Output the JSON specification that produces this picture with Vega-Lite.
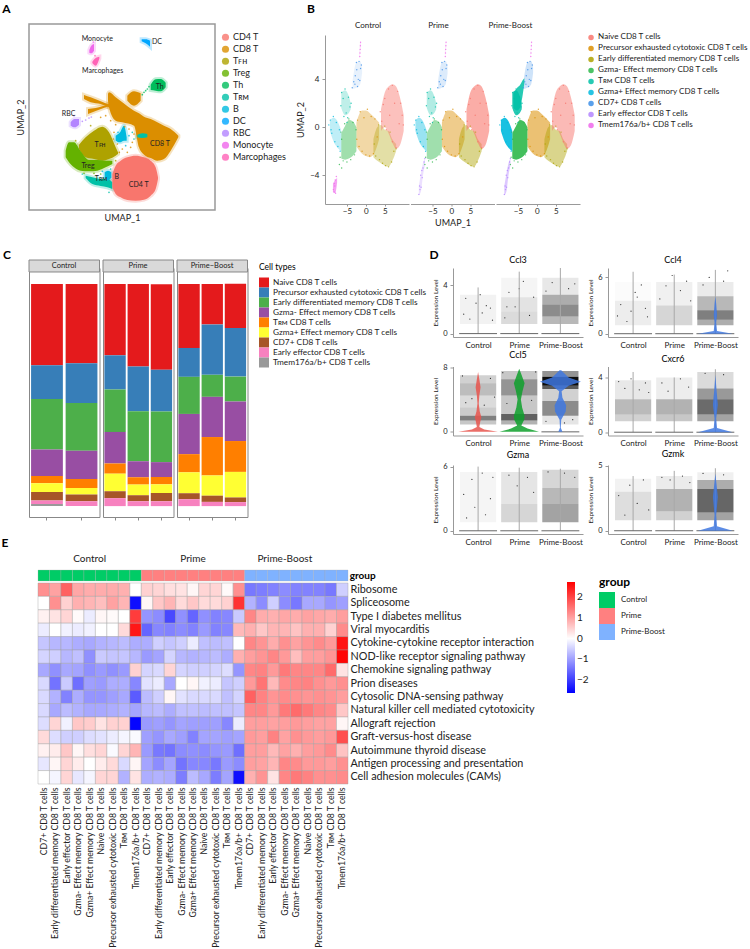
{"$schema":"https://vega.github.io/schema/vega-lite/v6.json","padding":0,"bounds":"flush","spacing":244,"resolve":{"scale":{"color":"independent","stroke":"independent"},"legend":{"color":"independent","stroke":"independent"}},
"config":{"font":"Lato","view":{"stroke":null},"axis":{"grid":false,"labelFontSize":8,"titleFontSize":8,"titleFontWeight":"normal","labelColor":"#222","titleColor":"#222","domainColor":"#999","tickColor":"#999","tickSize":3,"labelPadding":3},"legend":{"labelLimit":260,"labelColor":"#222"},"text":{"color":"#222"}},
"datasets":{
"aShapes":[
{"k":"CD8 T","p":1,"x":322,"y":280,"y2":300},{"k":"CD8 T","p":1,"x":325,"y":275,"y2":320},{"k":"CD8 T","p":1,"x":345,"y":290,"y2":360},{"k":"CD8 T","p":1,"x":365,"y":305,"y2":365},{"k":"CD8 T","p":1,"x":400,"y":330,"y2":375},{"k":"CD8 T","p":1,"x":415,"y":338,"y2":440},{"k":"CD8 T","p":1,"x":430,"y":348,"y2":462},{"k":"CD8 T","p":1,"x":450,"y":355,"y2":472},{"k":"CD8 T","p":1,"x":470,"y":365,"y2":480},{"k":"CD8 T","p":1,"x":490,"y":375,"y2":475},{"k":"CD8 T","p":1,"x":510,"y":385,"y2":450},{"k":"CD8 T","p":1,"x":533,"y":405,"y2":410},
{"k":"CD8 T","p":2,"x":380,"y":285,"y2":300},{"k":"CD8 T","p":2,"x":400,"y":272,"y2":315},{"k":"CD8 T","p":2,"x":420,"y":278,"y2":300},
{"k":"CD8 T","p":3,"x":250,"y":283,"y2":295},{"k":"CD8 T","p":3,"x":270,"y":290,"y2":305},{"k":"CD8 T","p":3,"x":300,"y":302,"y2":310},{"k":"CD8 T","p":3,"x":325,"y":312,"y2":320},
{"k":"CD8 T","p":4,"x":262,"y":325,"y2":340},{"k":"CD8 T","p":4,"x":285,"y":322,"y2":331},{"k":"CD8 T","p":4,"x":325,"y":310,"y2":316},
{"k":"Th","p":1,"x":450,"y":252,"y2":268},{"k":"Th","p":1,"x":465,"y":236,"y2":270},{"k":"Th","p":1,"x":480,"y":235,"y2":272},{"k":"Th","p":1,"x":495,"y":246,"y2":260},
{"k":"Tꜰʜ","p":1,"x":235,"y":432,"y2":445},{"k":"Tꜰʜ","p":1,"x":255,"y":410,"y2":470},{"k":"Tꜰʜ","p":1,"x":280,"y":390,"y2":475},{"k":"Tꜰʜ","p":1,"x":305,"y":378,"y2":480},{"k":"Tꜰʜ","p":1,"x":325,"y":395,"y2":475},{"k":"Tꜰʜ","p":1,"x":345,"y":440,"y2":465},{"k":"Tꜰʜ","p":1,"x":352,"y":455,"y2":460},
{"k":"Treg","p":1,"x":195,"y":450,"y2":470},{"k":"Treg","p":1,"x":205,"y":425,"y2":485},{"k":"Treg","p":1,"x":220,"y":425,"y2":500},{"k":"Treg","p":1,"x":240,"y":452,"y2":510},{"k":"Treg","p":1,"x":265,"y":478,"y2":512},{"k":"Treg","p":1,"x":290,"y":478,"y2":510},{"k":"Treg","p":1,"x":315,"y":480,"y2":500},{"k":"Treg","p":1,"x":335,"y":480,"y2":490},
{"k":"Tʀᴍ","p":1,"x":255,"y":525,"y2":532},{"k":"Tʀᴍ","p":1,"x":275,"y":530,"y2":550},{"k":"Tʀᴍ","p":1,"x":300,"y":535,"y2":556},{"k":"Tʀᴍ","p":1,"x":320,"y":535,"y2":560},{"k":"Tʀᴍ","p":1,"x":335,"y":545,"y2":565},
{"k":"B","p":1,"x":312,"y":515,"y2":530},{"k":"B","p":1,"x":322,"y":510,"y2":540},{"k":"B","p":1,"x":332,"y":515,"y2":530},
{"k":"B","p":2,"x":345,"y":405,"y2":420},{"k":"B","p":2,"x":358,"y":395,"y2":425},{"k":"B","p":2,"x":370,"y":375,"y2":420},{"k":"B","p":2,"x":378,"y":410,"y2":420},
{"k":"Tʀᴍ","p":2,"x":410,"y":403,"y2":410},{"k":"Tʀᴍ","p":2,"x":425,"y":398,"y2":412},{"k":"Tʀᴍ","p":2,"x":440,"y":400,"y2":410},
{"k":"CD4 T","p":1,"x":335,"y":520,"y2":560},{"k":"CD4 T","p":1,"x":345,"y":495,"y2":580},{"k":"CD4 T","p":1,"x":360,"y":480,"y2":590},{"k":"CD4 T","p":1,"x":380,"y":470,"y2":598},{"k":"CD4 T","p":1,"x":405,"y":465,"y2":600},{"k":"CD4 T","p":1,"x":430,"y":470,"y2":597},{"k":"CD4 T","p":1,"x":450,"y":480,"y2":585},{"k":"CD4 T","p":1,"x":465,"y":500,"y2":565},{"k":"CD4 T","p":1,"x":472,"y":530,"y2":535},
{"k":"DC","p":1,"x":423,"y":116,"y2":122},{"k":"DC","p":1,"x":435,"y":116,"y2":128},{"k":"DC","p":1,"x":448,"y":120,"y2":138},
{"k":"Monocyte","p":1,"x":266,"y":148,"y2":156},{"k":"Monocyte","p":1,"x":272,"y":135,"y2":158},{"k":"Monocyte","p":1,"x":280,"y":130,"y2":150},
{"k":"Marcophages","p":1,"x":275,"y":183,"y2":187},{"k":"Marcophages","p":1,"x":285,"y":172,"y2":195},{"k":"Marcophages","p":1,"x":296,"y":168,"y2":174},
{"k":"RBC","p":1,"x":210,"y":365,"y2":375},{"k":"RBC","p":1,"x":222,"y":355,"y2":380},{"k":"RBC","p":1,"x":235,"y":355,"y2":372}],
"aDots":[{"k":"CD8 T","x":345,"y":372},{"k":"CD8 T","x":350,"y":430},{"k":"CD8 T","x":365,"y":445},{"k":"CD8 T","x":390,"y":440},{"k":"CD8 T","x":400,"y":400},{"k":"CD8 T","x":385,"y":385},{"k":"CD8 T","x":340,"y":395},{"k":"CD8 T","x":395,"y":425},{"k":"CD8 T","x":372,"y":378},{"k":"CD8 T","x":410,"y":385},{"k":"CD8 T","x":356,"y":455},{"k":"CD8 T","x":380,"y":455},{"k":"CD8 T","x":330,"y":360},{"k":"CD8 T","x":338,"y":415},{"k":"CD8 T","x":300,"y":350},{"k":"CD8 T","x":315,"y":345},{"k":"B","x":385,"y":405},{"k":"B","x":352,"y":395},{"k":"B","x":375,"y":435},{"k":"Tʀᴍ","x":400,"y":415},{"k":"Tʀᴍ","x":395,"y":395},{"k":"Th","x":440,"y":265},{"k":"Th","x":430,"y":275},{"k":"Th","x":445,"y":258},{"k":"Th","x":425,"y":282},{"k":"Th","x":435,"y":270},{"k":"RBC","x":245,"y":362},{"k":"RBC","x":255,"y":358},{"k":"RBC","x":265,"y":352},{"k":"RBC","x":272,"y":349},{"k":"RBC","x":220,"y":345},{"k":"Treg","x":250,"y":518},{"k":"Treg","x":300,"y":520},{"k":"Treg","x":280,"y":518},{"k":"Tʀᴍ","x":330,"y":505},{"k":"Tꜰʜ","x":345,"y":480},{"k":"Tꜰʜ","x":270,"y":375},{"k":"Tꜰʜ","x":225,"y":420},{"k":"Tʀᴍ","x":245,"y":520},{"k":"B","x":305,"y":512},{"k":"Tʀᴍ","x":325,"y":575},{"k":"Marcophages","x":283,"y":165},{"k":"Monocyte","x":278,"y":124}],
"dens":[{"s":"N","C":0.45,"P":0.6,"B":0.5},{"s":"P","C":0.35,"P":0.45,"B":0.55},{"s":"E","C":0.35,"P":0.45,"B":0.45},{"s":"G","C":0.45,"P":0.45,"B":0.9},{"s":"T","C":0.25,"P":0.3,"B":0.85},{"s":"H","C":0.25,"P":0.4,"B":0.9},{"s":"7","C":0.12,"P":0.18,"B":0.25},{"s":"F","C":0,"P":0.25,"B":0.45},{"s":"M","C":0.2,"P":0.15,"B":0.1},{"s":"m","C":0.6,"P":0,"B":0}],
"bShapes":[
{"s":"P","x":-2.5,"y":-1.6,"y2":0.4},{"s":"P","x":-1,"y":-2.2,"y2":1.4},{"s":"P","x":0,"y":-2.4,"y2":1.4},{"s":"P","x":1,"y":-2.5,"y2":1.2},{"s":"P","x":2,"y":-2.3,"y2":0.9},{"s":"P","x":3.5,"y":-1,"y2":0.4},
{"s":"E","x":2,"y":-2.5,"y2":-1},{"s":"E","x":3,"y":-2.8,"y2":0},{"s":"E","x":4,"y":-3,"y2":0.2},{"s":"E","x":5,"y":-3.2,"y2":-0.2},{"s":"E","x":6,"y":-3.3,"y2":-0.3},{"s":"E","x":7,"y":-2.8,"y2":-1},{"s":"E","x":8,"y":-2,"y2":-1.4},
{"s":"N","x":4,"y":-0.3,"y2":1.5},{"s":"N","x":5,"y":0,"y2":2.9},{"s":"N","x":6,"y":-0.5,"y2":3.4},{"s":"N","x":7,"y":-1.3,"y2":3.6},{"s":"N","x":8,"y":-1.8,"y2":3.4},{"s":"N","x":9,"y":-1.5,"y2":2.5},{"s":"N","x":10,"y":-0.3,"y2":1},
{"s":"G","x":-6.5,"y":-2.6,"y2":-0.5},{"s":"G","x":-5.5,"y":-2.7,"y2":0.1},{"s":"G","x":-4.5,"y":-2.6,"y2":0.6},{"s":"G","x":-3.5,"y":-2.4,"y2":0.5},{"s":"G","x":-2.5,"y":-2,"y2":0},
{"s":"T","x":-6.5,"y":1.6,"y2":2.9},{"s":"T","x":-5.5,"y":1,"y2":3.1},{"s":"T","x":-4.5,"y":1.2,"y2":2.6},{"s":"T","x":-4,"y":1.5,"y2":2},
{"s":"H","x":-9.5,"y":-0.3,"y2":0.6},{"s":"H","x":-8.5,"y":-1.2,"y2":0.8},{"s":"H","x":-7.5,"y":-1.7,"y2":0.5},{"s":"H","x":-6.5,"y":-2,"y2":-0.3},
{"s":"7","x":-3.5,"y":3.2,"y2":3.9},{"s":"7","x":-2.5,"y":3.3,"y2":5.4},{"s":"7","x":-1.5,"y":3.6,"y2":5.5},{"s":"7","x":-1,"y":4.5,"y2":5},
{"s":"F","x":-8.6,"y":-5.7,"y2":-4.9},{"s":"F","x":-8,"y":-5.3,"y2":-3.8},{"s":"F","x":-7.5,"y":-4,"y2":-3},{"s":"F","x":-7,"y":-3.2,"y2":-2.6},
{"s":"m","x":-8.7,"y":-5.4,"y2":-4.7},{"s":"m","x":-8.1,"y":-5.5,"y2":-4.4},{"s":"m","x":-7.6,"y":-4.6,"y2":-4.2},
{"s":"M","x":-1.7,"y":5.7,"y2":6.2},{"s":"M","x":-1.5,"y":6.2,"y2":7.1},{"s":"M","x":-1.3,"y":6.8,"y2":7.1}],
"bExtra":[{"s":"T","x":-6.2,"y":1.6,"y2":2.8},{"s":"T","x":-5.2,"y":1.4,"y2":3.3},{"s":"T","x":-4.5,"y":1.6,"y2":3.5},{"s":"T","x":-3.8,"y":2.6,"y2":3.9},{"s":"T","x":-3.3,"y":3.7,"y2":4.1}],
"bDots":[{"s":"N","x":4.2,"y":0.5},{"s":"N","x":5,"y":2.4},{"s":"N","x":5.4,"y":-0.2},{"s":"N","x":6,"y":3.2},{"s":"N","x":6.3,"y":1},{"s":"N","x":7,"y":3.5},{"s":"N","x":7,"y":-1.2},{"s":"N","x":7.6,"y":2},{"s":"N","x":8,"y":-1.7},{"s":"N","x":8.4,"y":3},{"s":"N","x":8.8,"y":0.3},{"s":"N","x":9.2,"y":2},{"s":"N","x":9.6,"y":1},{"s":"N","x":9.9,"y":0.2},{"s":"N","x":3.8,"y":1.3},{"s":"N","x":4.6,"y":1.9},
{"s":"P","x":-2.4,"y":-1},{"s":"P","x":-2.2,"y":0.6},{"s":"P","x":-1.5,"y":1.3},{"s":"P","x":-1,"y":-2},{"s":"P","x":-0.5,"y":0.8},{"s":"P","x":0,"y":-2.3},{"s":"P","x":0.4,"y":1.5},{"s":"P","x":1,"y":-2.4},{"s":"P","x":1.4,"y":0.9},{"s":"P","x":2,"y":-2.2},{"s":"P","x":2.4,"y":0.7},{"s":"P","x":3,"y":-0.8},{"s":"P","x":-1.8,"y":-1.6},
{"s":"E","x":2.2,"y":-1.4},{"s":"E","x":2.6,"y":-2.4},{"s":"E","x":3.4,"y":0.2},{"s":"E","x":3.6,"y":-2.7},{"s":"E","x":4.4,"y":-3},{"s":"E","x":5,"y":0.1},{"s":"E","x":5.2,"y":-3.2},{"s":"E","x":6,"y":-3.3},{"s":"E","x":6.4,"y":-0.4},{"s":"E","x":6.8,"y":-2.9},{"s":"E","x":7.4,"y":-2},{"s":"E","x":8,"y":-1.8},
{"s":"G","x":-6.8,"y":-2.5},{"s":"G","x":-6.4,"y":-1},{"s":"G","x":-6,"y":-2.8},{"s":"G","x":-5.6,"y":0.3},{"s":"G","x":-5,"y":-2.9},{"s":"G","x":-4.5,"y":0.7},{"s":"G","x":-4,"y":-2.7},{"s":"G","x":-3.4,"y":0.4},{"s":"G","x":-3,"y":-2.3},{"s":"G","x":-2.6,"y":-0.2},{"s":"G","x":-6.6,"y":-0.4},{"s":"G","x":-7,"y":-3.1},{"s":"G","x":-6.4,"y":-3.4},
{"s":"T","x":-6.6,"y":1.8},{"s":"T","x":-6.4,"y":2.9},{"s":"T","x":-5.8,"y":0.9},{"s":"T","x":-5.5,"y":3.2},{"s":"T","x":-5,"y":0.4},{"s":"T","x":-4.6,"y":2.5},{"s":"T","x":-4.2,"y":1.7},{"s":"T","x":-3.9,"y":2},{"s":"T","x":-5.2,"y":1.2},{"s":"T","x":-6,"y":2.4},{"s":"T","x":-4.8,"y":0.8},
{"s":"H","x":-9.8,"y":0.2},{"s":"H","x":-9.4,"y":0.6},{"s":"H","x":-9,"y":-0.5},{"s":"H","x":-8.6,"y":0.9},{"s":"H","x":-8.2,"y":-1.2},{"s":"H","x":-7.8,"y":0.4},{"s":"H","x":-7.4,"y":-1.6},{"s":"H","x":-7,"y":-0.2},{"s":"H","x":-6.8,"y":-2},{"s":"H","x":-9.2,"y":-0.2},
{"s":"7","x":-3.6,"y":3.3},{"s":"7","x":-3.2,"y":3.8},{"s":"7","x":-2.8,"y":4.3},{"s":"7","x":-2.5,"y":5.4},{"s":"7","x":-2.2,"y":3.4},{"s":"7","x":-2,"y":4},{"s":"7","x":-1.8,"y":5.5},{"s":"7","x":-1.4,"y":4.9},{"s":"7","x":-1.2,"y":5.2},{"s":"7","x":-2.4,"y":4.8},{"s":"7","x":-2.9,"y":3.6},{"s":"7","x":-1.6,"y":3.9},
{"s":"F","x":-8.6,"y":-5.6},{"s":"F","x":-8.4,"y":-4.9},{"s":"F","x":-8,"y":-5},{"s":"F","x":-8.1,"y":-4},{"s":"F","x":-7.8,"y":-3.6},{"s":"F","x":-7.5,"y":-3.4},{"s":"F","x":-7.2,"y":-2.9},{"s":"F","x":-7,"y":-2.6},{"s":"F","x":-8.3,"y":-5.2},{"s":"F","x":-7.7,"y":-4.2},
{"s":"M","x":-1.5,"y":6.5},{"s":"M","x":-1.45,"y":6.8},{"s":"M","x":-1.4,"y":7.1},{"s":"M","x":-1.55,"y":6.2},{"s":"M","x":-1.6,"y":5.9},
{"s":"m","x":-8.6,"y":-5.2},{"s":"m","x":-8.4,"y":-5.4},{"s":"m","x":-8.2,"y":-4.9},{"s":"m","x":-8,"y":-5.5},{"s":"m","x":-8.1,"y":-4.4},{"s":"m","x":-7.8,"y":-4.1},{"s":"m","x":-8.3,"y":-4.7}],
"bars":[{"s":1,"r":1,"v":36.6},{"s":1,"r":2,"v":15.2},{"s":1,"r":3,"v":22.7},{"s":1,"r":4,"v":11.9},{"s":1,"r":5,"v":3.3},{"s":1,"r":6,"v":3.9},{"s":1,"r":7,"v":3.9},{"s":1,"r":8,"v":1.5},{"s":1,"r":9,"v":1},
{"s":2,"r":1,"v":35.7},{"s":2,"r":2,"v":17.9},{"s":2,"r":3,"v":21.5},{"s":2,"r":4,"v":12.7},{"s":2,"r":5,"v":4},{"s":2,"r":6,"v":3},{"s":2,"r":7,"v":3},{"s":2,"r":8,"v":2.2},
{"s":3,"r":1,"v":32.1},{"s":3,"r":2,"v":15.4},{"s":3,"r":3,"v":19.1},{"s":3,"r":4,"v":14.2},{"s":3,"r":5,"v":4.6},{"s":3,"r":6,"v":7.9},{"s":3,"r":7,"v":3.1},{"s":3,"r":8,"v":3.6},
{"s":4,"r":1,"v":37.2},{"s":4,"r":2,"v":20.1},{"s":4,"r":3,"v":22.5},{"s":4,"r":4,"v":7.2},{"s":4,"r":5,"v":3.3},{"s":4,"r":6,"v":4.8},{"s":4,"r":7,"v":2.7},{"s":4,"r":8,"v":2.2},
{"s":5,"r":1,"v":38.5},{"s":5,"r":2,"v":18.8},{"s":5,"r":3,"v":22.8},{"s":5,"r":4,"v":6.7},{"s":5,"r":5,"v":3.3},{"s":5,"r":6,"v":3.9},{"s":5,"r":7,"v":3.7},{"s":5,"r":8,"v":2.2},
{"s":6,"r":1,"v":28.8},{"s":6,"r":2,"v":13},{"s":6,"r":3,"v":16.7},{"s":6,"r":4,"v":18.1},{"s":6,"r":5,"v":8.2},{"s":6,"r":6,"v":9.4},{"s":6,"r":7,"v":2.7},{"s":6,"r":8,"v":3.1},
{"s":7,"r":1,"v":18.2},{"s":7,"r":2,"v":22.7},{"s":7,"r":3,"v":9.9},{"s":7,"r":4,"v":18.1},{"s":7,"r":5,"v":17.3},{"s":7,"r":6,"v":9.1},{"s":7,"r":7,"v":2.8},{"s":7,"r":8,"v":1.9},
{"s":8,"r":1,"v":19.9},{"s":8,"r":2,"v":21.9},{"s":8,"r":3,"v":11.2},{"s":8,"r":4,"v":17.8},{"s":8,"r":5,"v":13.9},{"s":8,"r":6,"v":11.5},{"s":8,"r":7,"v":2.1},{"s":8,"r":8,"v":1.8}],
"vln":[
{"g":"Ccl3","t":"r","c":1,"zero":0,"max":3.8,"l":0.54,"r":1.46},{"g":"Ccl3","t":"r","c":2,"zero":0,"max":5.1,"l":1.54,"r":2.46},{"g":"Ccl3","t":"r","c":3,"zero":0,"max":5.4,"l":2.54,"r":3.46},
{"g":"Ccl4","t":"r","c":1,"zero":0,"max":6.6,"l":0.54,"r":1.46},{"g":"Ccl4","t":"r","c":2,"zero":0,"max":6.3,"l":1.54,"r":2.46},{"g":"Ccl4","t":"r","c":3,"zero":0,"max":6.8,"l":2.54,"r":3.46},
{"g":"Ccl5","t":"r","c":3,"zero":0,"max":7.6,"l":2.54,"r":3.46},
{"g":"Cxcr6","t":"r","c":1,"zero":0,"max":4.4,"l":0.54,"r":1.46},{"g":"Cxcr6","t":"r","c":2,"zero":0,"max":4,"l":1.54,"r":2.46},{"g":"Cxcr6","t":"r","c":3,"zero":0,"max":4.6,"l":2.54,"r":3.46},
{"g":"Gzma","t":"r","c":1,"zero":0,"max":6,"l":0.54,"r":1.46},{"g":"Gzma","t":"r","c":2,"zero":0,"max":5.9,"l":1.54,"r":2.46},{"g":"Gzma","t":"r","c":3,"zero":0,"max":5.8,"l":2.54,"r":3.46},
{"g":"Gzmk","t":"r","c":1,"zero":0,"max":4.2,"l":0.54,"r":1.46},{"g":"Gzmk","t":"r","c":2,"zero":0,"max":4.6,"l":1.54,"r":2.46},{"g":"Gzmk","t":"r","c":3,"zero":0,"max":4.8,"l":2.54,"r":3.46},
{"g":"Ccl3","t":"b","x":0.56,"x2":1.44,"y":0.8,"y2":3.2,"d":0.05},{"g":"Ccl3","t":"b","x":1.56,"x2":2.44,"y":0.8,"y2":1.8,"d":0.14},{"g":"Ccl3","t":"b","x":1.56,"x2":2.44,"y":1.8,"y2":3,"d":0.11},{"g":"Ccl3","t":"b","x":1.56,"x2":2.44,"y":3,"y2":4.6,"d":0.04},{"g":"Ccl3","t":"b","x":2.56,"x2":3.44,"y":0.8,"y2":1.4,"d":0.28},{"g":"Ccl3","t":"b","x":2.56,"x2":3.44,"y":1.4,"y2":2.4,"d":0.45},{"g":"Ccl3","t":"b","x":2.56,"x2":3.44,"y":2.4,"y2":3.2,"d":0.32},{"g":"Ccl3","t":"b","x":2.56,"x2":3.44,"y":3.2,"y2":4.6,"d":0.09},
{"g":"Ccl4","t":"b","x":0.56,"x2":1.44,"y":0.9,"y2":3.5,"d":0.07},{"g":"Ccl4","t":"b","x":0.56,"x2":1.44,"y":3.5,"y2":5.5,"d":0.015},{"g":"Ccl4","t":"b","x":1.56,"x2":2.44,"y":0.9,"y2":3,"d":0.16},{"g":"Ccl4","t":"b","x":1.56,"x2":2.44,"y":3,"y2":5.5,"d":0.06},{"g":"Ccl4","t":"b","x":2.56,"x2":3.44,"y":0.9,"y2":1.5,"d":0.32},{"g":"Ccl4","t":"b","x":2.56,"x2":3.44,"y":1.5,"y2":2.5,"d":0.5},{"g":"Ccl4","t":"b","x":2.56,"x2":3.44,"y":2.5,"y2":4,"d":0.28},{"g":"Ccl4","t":"b","x":2.56,"x2":3.44,"y":4,"y2":5.5,"d":0.08},
{"g":"Ccl5","t":"b","x":0.56,"x2":1.44,"y":0.9,"y2":1.4,"d":0.22},{"g":"Ccl5","t":"b","x":0.56,"x2":1.44,"y":1.4,"y2":2,"d":0.5},{"g":"Ccl5","t":"b","x":0.56,"x2":1.44,"y":2,"y2":3,"d":0.2},{"g":"Ccl5","t":"b","x":0.56,"x2":1.44,"y":3,"y2":4.5,"d":0.14},{"g":"Ccl5","t":"b","x":0.56,"x2":1.44,"y":4.5,"y2":6,"d":0.26},{"g":"Ccl5","t":"b","x":0.56,"x2":1.44,"y":6,"y2":7,"d":0.18},
{"g":"Ccl5","t":"b","x":1.56,"x2":2.44,"y":0.9,"y2":1.4,"d":0.3},{"g":"Ccl5","t":"b","x":1.56,"x2":2.44,"y":1.4,"y2":2.2,"d":0.62},{"g":"Ccl5","t":"b","x":1.56,"x2":2.44,"y":2.2,"y2":4.5,"d":0.22},{"g":"Ccl5","t":"b","x":1.56,"x2":2.44,"y":4.5,"y2":6.5,"d":0.42},{"g":"Ccl5","t":"b","x":1.56,"x2":2.44,"y":6.5,"y2":7.5,"d":0.22},
{"g":"Ccl5","t":"b","x":2.56,"x2":3.44,"y":0.9,"y2":2,"d":0.1},{"g":"Ccl5","t":"b","x":2.56,"x2":3.44,"y":2,"y2":3.8,"d":0.45},{"g":"Ccl5","t":"b","x":2.56,"x2":3.44,"y":3.8,"y2":5.3,"d":0.18},{"g":"Ccl5","t":"b","x":2.56,"x2":3.44,"y":5.3,"y2":5.7,"d":0.65},{"g":"Ccl5","t":"b","x":2.56,"x2":3.44,"y":5.7,"y2":6.8,"d":0.95},{"g":"Ccl5","t":"b","x":2.56,"x2":3.44,"y":6.8,"y2":7.5,"d":0.42},
{"g":"Cxcr6","t":"b","x":0.56,"x2":1.44,"y":0.8,"y2":1.3,"d":0.18},{"g":"Cxcr6","t":"b","x":0.56,"x2":1.44,"y":1.3,"y2":2.4,"d":0.27},{"g":"Cxcr6","t":"b","x":0.56,"x2":1.44,"y":2.4,"y2":3.8,"d":0.09},{"g":"Cxcr6","t":"b","x":1.56,"x2":2.44,"y":0.8,"y2":1.3,"d":0.22},{"g":"Cxcr6","t":"b","x":1.56,"x2":2.44,"y":1.3,"y2":2.4,"d":0.3},{"g":"Cxcr6","t":"b","x":1.56,"x2":2.44,"y":2.4,"y2":4,"d":0.07},{"g":"Cxcr6","t":"b","x":2.56,"x2":3.44,"y":0.8,"y2":1.3,"d":0.36},{"g":"Cxcr6","t":"b","x":2.56,"x2":3.44,"y":1.3,"y2":2.4,"d":0.58},{"g":"Cxcr6","t":"b","x":2.56,"x2":3.44,"y":2.4,"y2":3.2,"d":0.4},{"g":"Cxcr6","t":"b","x":2.56,"x2":3.44,"y":3.2,"y2":4.4,"d":0.14},
{"g":"Gzma","t":"b","x":0.56,"x2":1.44,"y":0.8,"y2":5.5,"d":0.04},{"g":"Gzma","t":"b","x":1.56,"x2":2.44,"y":0.8,"y2":2.5,"d":0.16},{"g":"Gzma","t":"b","x":1.56,"x2":2.44,"y":2.5,"y2":5.5,"d":0.1},{"g":"Gzma","t":"b","x":2.56,"x2":3.44,"y":0.8,"y2":2.5,"d":0.36},{"g":"Gzma","t":"b","x":2.56,"x2":3.44,"y":2.5,"y2":4,"d":0.28},{"g":"Gzma","t":"b","x":2.56,"x2":3.44,"y":4,"y2":5.7,"d":0.16},
{"g":"Gzmk","t":"b","x":0.56,"x2":1.44,"y":0.8,"y2":3,"d":0.13},{"g":"Gzmk","t":"b","x":0.56,"x2":1.44,"y":3,"y2":4,"d":0.05},{"g":"Gzmk","t":"b","x":1.56,"x2":2.44,"y":0.8,"y2":1.5,"d":0.18},{"g":"Gzmk","t":"b","x":1.56,"x2":2.44,"y":1.5,"y2":3.2,"d":0.3},{"g":"Gzmk","t":"b","x":1.56,"x2":2.44,"y":3.2,"y2":4.2,"d":0.08},{"g":"Gzmk","t":"b","x":2.56,"x2":3.44,"y":0.8,"y2":1.4,"d":0.36},{"g":"Gzmk","t":"b","x":2.56,"x2":3.44,"y":1.4,"y2":3.2,"d":0.6},{"g":"Gzmk","t":"b","x":2.56,"x2":3.44,"y":3.2,"y2":3.9,"d":0.32},{"g":"Gzmk","t":"b","x":2.56,"x2":3.44,"y":3.9,"y2":4.5,"d":0.06},
{"g":"Ccl5","t":"v","c":"1","y":0,"x":0.52,"x2":1.48},{"g":"Ccl5","t":"v","c":"1","y":0.3,"x":0.85,"x2":1.15},{"g":"Ccl5","t":"v","c":"1","y":0.6,"x":0.97,"x2":1.03},{"g":"Ccl5","t":"v","c":"1","y":1.2,"x":0.95,"x2":1.05},{"g":"Ccl5","t":"v","c":"1","y":1.8,"x":0.92,"x2":1.08},{"g":"Ccl5","t":"v","c":"1","y":2.5,"x":0.96,"x2":1.04},{"g":"Ccl5","t":"v","c":"1","y":3.5,"x":0.985,"x2":1.015},{"g":"Ccl5","t":"v","c":"1","y":4.5,"x":0.97,"x2":1.03},{"g":"Ccl5","t":"v","c":"1","y":5.5,"x":0.94,"x2":1.06},{"g":"Ccl5","t":"v","c":"1","y":6.5,"x":0.97,"x2":1.03},{"g":"Ccl5","t":"v","c":"1","y":7.4,"x":1,"x2":1},
{"g":"Ccl5","t":"v","c":"2","y":0,"x":1.52,"x2":2.48},{"g":"Ccl5","t":"v","c":"2","y":0.4,"x":1.8,"x2":2.2},{"g":"Ccl5","t":"v","c":"2","y":0.8,"x":1.95,"x2":2.05},{"g":"Ccl5","t":"v","c":"2","y":1.5,"x":1.88,"x2":2.12},{"g":"Ccl5","t":"v","c":"2","y":2,"x":1.87,"x2":2.13},{"g":"Ccl5","t":"v","c":"2","y":3,"x":1.93,"x2":2.07},{"g":"Ccl5","t":"v","c":"2","y":4,"x":1.96,"x2":2.04},{"g":"Ccl5","t":"v","c":"2","y":5,"x":1.92,"x2":2.08},{"g":"Ccl5","t":"v","c":"2","y":6,"x":1.87,"x2":2.13},{"g":"Ccl5","t":"v","c":"2","y":7,"x":1.94,"x2":2.06},{"g":"Ccl5","t":"v","c":"2","y":7.8,"x":2,"x2":2},
{"g":"Ccl5","t":"v","c":"3","y":0,"x":2.95,"x2":3.05},{"g":"Ccl5","t":"v","c":"3","y":0.5,"x":2.99,"x2":3.01},{"g":"Ccl5","t":"v","c":"3","y":1.5,"x":2.98,"x2":3.02},{"g":"Ccl5","t":"v","c":"3","y":2.5,"x":2.87,"x2":3.13},{"g":"Ccl5","t":"v","c":"3","y":3.3,"x":2.86,"x2":3.14},{"g":"Ccl5","t":"v","c":"3","y":4.2,"x":2.95,"x2":3.05},{"g":"Ccl5","t":"v","c":"3","y":5,"x":2.97,"x2":3.03},{"g":"Ccl5","t":"v","c":"3","y":5.7,"x":2.8,"x2":3.2},{"g":"Ccl5","t":"v","c":"3","y":6.2,"x":2.5,"x2":3.5},{"g":"Ccl5","t":"v","c":"3","y":6.7,"x":2.8,"x2":3.2},{"g":"Ccl5","t":"v","c":"3","y":7.6,"x":2.98,"x2":3.02},
{"g":"Ccl4","t":"v","c":"3","y":0,"x":2.58,"x2":3.42},{"g":"Ccl4","t":"v","c":"3","y":0.3,"x":2.96,"x2":3.04},{"g":"Ccl4","t":"v","c":"3","y":1.2,"x":2.98,"x2":3.02},{"g":"Ccl4","t":"v","c":"3","y":2,"x":2.96,"x2":3.04},{"g":"Ccl4","t":"v","c":"3","y":3.2,"x":2.98,"x2":3.02},{"g":"Ccl4","t":"v","c":"3","y":4,"x":3,"x2":3},
{"g":"Cxcr6","t":"v","c":"3","y":0,"x":2.58,"x2":3.42},{"g":"Cxcr6","t":"v","c":"3","y":0.3,"x":2.96,"x2":3.04},{"g":"Cxcr6","t":"v","c":"3","y":1,"x":2.98,"x2":3.02},{"g":"Cxcr6","t":"v","c":"3","y":2,"x":2.94,"x2":3.06},{"g":"Cxcr6","t":"v","c":"3","y":3,"x":2.97,"x2":3.03},{"g":"Cxcr6","t":"v","c":"3","y":4.2,"x":3,"x2":3},
{"g":"Gzmk","t":"v","c":"3","y":0,"x":2.58,"x2":3.42},{"g":"Gzmk","t":"v","c":"3","y":0.35,"x":2.96,"x2":3.04},{"g":"Gzmk","t":"v","c":"3","y":1.2,"x":2.98,"x2":3.02},{"g":"Gzmk","t":"v","c":"3","y":2.6,"x":2.94,"x2":3.06},{"g":"Gzmk","t":"v","c":"3","y":3.8,"x":2.98,"x2":3.02},{"g":"Gzmk","t":"v","c":"3","y":4.4,"x":3,"x2":3},
{"g":"Ccl3","t":"d","x":0.7,"y":2.9},{"g":"Ccl3","t":"d","x":0.8,"y":1.2},{"g":"Ccl3","t":"d","x":0.95,"y":2.5},{"g":"Ccl3","t":"d","x":1.1,"y":1.7},{"g":"Ccl3","t":"d","x":1.2,"y":2.3},{"g":"Ccl3","t":"d","x":1.35,"y":1.1},{"g":"Ccl3","t":"d","x":0.65,"y":1.6},{"g":"Ccl3","t":"d","x":1.3,"y":2.1},{"g":"Ccl3","t":"d","x":1.05,"y":3.2},{"g":"Ccl3","t":"d","x":1.65,"y":1.3},{"g":"Ccl3","t":"d","x":1.75,"y":3.4},{"g":"Ccl3","t":"d","x":1.9,"y":2.2},{"g":"Ccl3","t":"d","x":2.1,"y":4.3},{"g":"Ccl3","t":"d","x":2.25,"y":1.5},{"g":"Ccl3","t":"d","x":2.35,"y":3},{"g":"Ccl3","t":"d","x":1.7,"y":2.2},{"g":"Ccl3","t":"d","x":2,"y":3.7},{"g":"Ccl3","t":"d","x":2.65,"y":3.5},{"g":"Ccl3","t":"d","x":2.8,"y":4.2},{"g":"Ccl3","t":"d","x":3.2,"y":3.7},{"g":"Ccl3","t":"d","x":3.35,"y":4.1},
{"g":"Ccl4","t":"d","x":0.7,"y":3.1},{"g":"Ccl4","t":"d","x":0.85,"y":1.3},{"g":"Ccl4","t":"d","x":0.95,"y":2.4},{"g":"Ccl4","t":"d","x":1.1,"y":3.9},{"g":"Ccl4","t":"d","x":1.2,"y":5.2},{"g":"Ccl4","t":"d","x":1.35,"y":1.8},{"g":"Ccl4","t":"d","x":0.62,"y":1.9},{"g":"Ccl4","t":"d","x":1.3,"y":2.7},{"g":"Ccl4","t":"d","x":1.05,"y":4.4},{"g":"Ccl4","t":"d","x":1.65,"y":3.7},{"g":"Ccl4","t":"d","x":1.8,"y":5.1},{"g":"Ccl4","t":"d","x":1.95,"y":6.2},{"g":"Ccl4","t":"d","x":2.15,"y":4.6},{"g":"Ccl4","t":"d","x":2.3,"y":5.6},{"g":"Ccl4","t":"d","x":2.4,"y":3.5},{"g":"Ccl4","t":"d","x":2.7,"y":5.2},{"g":"Ccl4","t":"d","x":2.85,"y":6},{"g":"Ccl4","t":"d","x":3.2,"y":5.6},{"g":"Ccl4","t":"d","x":3.3,"y":6.7},
{"g":"Ccl5","t":"d","x":0.7,"y":3.6},{"g":"Ccl5","t":"d","x":0.85,"y":4.1},{"g":"Ccl5","t":"d","x":1.15,"y":3.3},{"g":"Ccl5","t":"d","x":1.3,"y":6.6},{"g":"Ccl5","t":"d","x":1.4,"y":4.3},{"g":"Ccl5","t":"d","x":0.62,"y":6.9},{"g":"Ccl5","t":"d","x":1.7,"y":3.5},{"g":"Ccl5","t":"d","x":2.3,"y":3.9},{"g":"Ccl5","t":"d","x":1.6,"y":7.3},{"g":"Ccl5","t":"d","x":2.4,"y":7.4},{"g":"Ccl5","t":"d","x":2.65,"y":1.3},{"g":"Ccl5","t":"d","x":3.3,"y":1.5},{"g":"Ccl5","t":"d","x":3.1,"y":1.1},
{"g":"Cxcr6","t":"d","x":0.65,"y":3.7},{"g":"Cxcr6","t":"d","x":0.8,"y":3.2},{"g":"Cxcr6","t":"d","x":0.95,"y":3.9},{"g":"Cxcr6","t":"d","x":1.15,"y":3.1},{"g":"Cxcr6","t":"d","x":1.3,"y":3.6},{"g":"Cxcr6","t":"d","x":1.38,"y":2.9},{"g":"Cxcr6","t":"d","x":1.7,"y":3.6},{"g":"Cxcr6","t":"d","x":1.85,"y":3},{"g":"Cxcr6","t":"d","x":2.15,"y":3.9},{"g":"Cxcr6","t":"d","x":2.35,"y":3.3},{"g":"Cxcr6","t":"d","x":2.75,"y":4.3},{"g":"Cxcr6","t":"d","x":3.2,"y":4.2},
{"g":"Gzma","t":"d","x":0.65,"y":3.4},{"g":"Gzma","t":"d","x":0.72,"y":1.2},{"g":"Gzma","t":"d","x":0.85,"y":4.8},{"g":"Gzma","t":"d","x":0.92,"y":2.2},{"g":"Gzma","t":"d","x":1.1,"y":5.4},{"g":"Gzma","t":"d","x":1.18,"y":1.5},{"g":"Gzma","t":"d","x":1.3,"y":3},{"g":"Gzma","t":"d","x":1.36,"y":5},{"g":"Gzma","t":"d","x":1.75,"y":5.2},{"g":"Gzma","t":"d","x":1.95,"y":4.2},{"g":"Gzma","t":"d","x":2.2,"y":5},{"g":"Gzma","t":"d","x":2.35,"y":3.6},{"g":"Gzma","t":"d","x":2.7,"y":5.5},{"g":"Gzma","t":"d","x":3.1,"y":5.4},{"g":"Gzma","t":"d","x":3.35,"y":5},
{"g":"Gzmk","t":"d","x":0.65,"y":2.7},{"g":"Gzmk","t":"d","x":0.8,"y":1.2},{"g":"Gzmk","t":"d","x":0.92,"y":3.5},{"g":"Gzmk","t":"d","x":1.1,"y":2.1},{"g":"Gzmk","t":"d","x":1.25,"y":3.9},{"g":"Gzmk","t":"d","x":1.38,"y":1.6},{"g":"Gzmk","t":"d","x":1.7,"y":4.1},{"g":"Gzmk","t":"d","x":1.9,"y":3.9},{"g":"Gzmk","t":"d","x":2.2,"y":4.2},{"g":"Gzmk","t":"d","x":2.38,"y":3.7},{"g":"Gzmk","t":"d","x":2.7,"y":4.4},{"g":"Gzmk","t":"d","x":3.2,"y":4.3}],
"annot":[{"c":1,"g":"Control"},{"c":2,"g":"Control"},{"c":3,"g":"Control"},{"c":4,"g":"Control"},{"c":5,"g":"Control"},{"c":6,"g":"Control"},{"c":7,"g":"Control"},{"c":8,"g":"Control"},{"c":9,"g":"Control"},{"c":10,"g":"Prime"},{"c":11,"g":"Prime"},{"c":12,"g":"Prime"},{"c":13,"g":"Prime"},{"c":14,"g":"Prime"},{"c":15,"g":"Prime"},{"c":16,"g":"Prime"},{"c":17,"g":"Prime"},{"c":18,"g":"Prime"},{"c":19,"g":"Prime-Boost"},{"c":20,"g":"Prime-Boost"},{"c":21,"g":"Prime-Boost"},{"c":22,"g":"Prime-Boost"},{"c":23,"g":"Prime-Boost"},{"c":24,"g":"Prime-Boost"},{"c":25,"g":"Prime-Boost"},{"c":26,"g":"Prime-Boost"},{"c":27,"g":"Prime-Boost"}],
"heat":[
{"c":1,"r":1,"v":1.2},{"c":2,"r":1,"v":1},{"c":3,"r":1,"v":1.7},{"c":4,"r":1,"v":0.95},{"c":5,"r":1,"v":0.9},{"c":6,"r":1,"v":0.9},{"c":7,"r":1,"v":0.9},{"c":8,"r":1,"v":0.85},{"c":9,"r":1,"v":0},{"c":10,"r":1,"v":0.5},{"c":11,"r":1,"v":0.45},{"c":12,"r":1,"v":0.35},{"c":13,"r":1,"v":0.3},{"c":14,"r":1,"v":0.1},{"c":15,"r":1,"v":0.45},{"c":16,"r":1,"v":0.45},{"c":17,"r":1,"v":0.05},{"c":18,"r":1,"v":1.2},{"c":19,"r":1,"v":-1.4},{"c":20,"r":1,"v":-1.35},{"c":21,"r":1,"v":-1.3},{"c":22,"r":1,"v":-1.2},{"c":23,"r":1,"v":-1.3},{"c":24,"r":1,"v":-1.3},{"c":25,"r":1,"v":-1.3},{"c":26,"r":1,"v":-1.4},{"c":27,"r":1,"v":-0.5},
{"c":1,"r":2,"v":0},{"c":2,"r":2,"v":1.2},{"c":3,"r":2,"v":0.5},{"c":4,"r":2,"v":0.85},{"c":5,"r":2,"v":0.8},{"c":6,"r":2,"v":0.7},{"c":7,"r":2,"v":1},{"c":8,"r":2,"v":0.8},{"c":9,"r":2,"v":-2.5},{"c":10,"r":2,"v":0.1},{"c":11,"r":2,"v":0.6},{"c":12,"r":2,"v":0.8},{"c":13,"r":2,"v":0.4},{"c":14,"r":2,"v":0.6},{"c":15,"r":2,"v":0.4},{"c":16,"r":2,"v":0.4},{"c":17,"r":2,"v":0.5},{"c":18,"r":2,"v":2.2},{"c":19,"r":2,"v":-0.8},{"c":20,"r":2,"v":-1.2},{"c":21,"r":2,"v":-0.5},{"c":22,"r":2,"v":-1.2},{"c":23,"r":2,"v":-1.4},{"c":24,"r":2,"v":-0.9},{"c":25,"r":2,"v":-0.9},{"c":26,"r":2,"v":-1.1},{"c":27,"r":2,"v":-1},
{"c":1,"r":3,"v":0.15},{"c":2,"r":3,"v":0.3},{"c":3,"r":3,"v":0.45},{"c":4,"r":3,"v":0.05},{"c":5,"r":3,"v":-0.2},{"c":6,"r":3,"v":0.1},{"c":7,"r":3,"v":0.05},{"c":8,"r":3,"v":0},{"c":9,"r":3,"v":2.1},{"c":10,"r":3,"v":-1.1},{"c":11,"r":3,"v":-1.2},{"c":12,"r":3,"v":-1.9},{"c":13,"r":3,"v":-1.15},{"c":14,"r":3,"v":-1.6},{"c":15,"r":3,"v":-1.15},{"c":16,"r":3,"v":-1.3},{"c":17,"r":3,"v":-1.25},{"c":18,"r":3,"v":-0.55},{"c":19,"r":3,"v":1.3},{"c":20,"r":3,"v":0.9},{"c":21,"r":3,"v":0.85},{"c":22,"r":3,"v":0.95},{"c":23,"r":3,"v":0.9},{"c":24,"r":3,"v":1},{"c":25,"r":3,"v":0.95},{"c":26,"r":3,"v":0.9},{"c":27,"r":3,"v":1.05},
{"c":1,"r":4,"v":-0.2},{"c":2,"r":4,"v":0},{"c":3,"r":4,"v":-0.15},{"c":4,"r":4,"v":-0.2},{"c":5,"r":4,"v":-0.15},{"c":6,"r":4,"v":0},{"c":7,"r":4,"v":0},{"c":8,"r":4,"v":0.4},{"c":9,"r":4,"v":2.5},{"c":10,"r":4,"v":-1.6},{"c":11,"r":4,"v":-1.25},{"c":12,"r":4,"v":-1.3},{"c":13,"r":4,"v":-1.2},{"c":14,"r":4,"v":-1.3},{"c":15,"r":4,"v":-1.05},{"c":16,"r":4,"v":-1.3},{"c":17,"r":4,"v":-1.25},{"c":18,"r":4,"v":0.75},{"c":19,"r":4,"v":0.85},{"c":20,"r":4,"v":0.6},{"c":21,"r":4,"v":0.8},{"c":22,"r":4,"v":0.8},{"c":23,"r":4,"v":0.65},{"c":24,"r":4,"v":0.85},{"c":25,"r":4,"v":0.85},{"c":26,"r":4,"v":0.5},{"c":27,"r":4,"v":1.25},
{"c":1,"r":5,"v":-0.6},{"c":2,"r":5,"v":-0.75},{"c":3,"r":5,"v":-0.75},{"c":4,"r":5,"v":-0.85},{"c":5,"r":5,"v":-0.9},{"c":6,"r":5,"v":-0.8},{"c":7,"r":5,"v":-0.75},{"c":8,"r":5,"v":-0.7},{"c":9,"r":5,"v":-0.85},{"c":10,"r":5,"v":-0.85},{"c":11,"r":5,"v":-0.5},{"c":12,"r":5,"v":-0.6},{"c":13,"r":5,"v":-0.5},{"c":14,"r":5,"v":-0.2},{"c":15,"r":5,"v":-0.65},{"c":16,"r":5,"v":-0.7},{"c":17,"r":5,"v":-0.65},{"c":18,"r":5,"v":0},{"c":19,"r":5,"v":1.3},{"c":20,"r":5,"v":1.15},{"c":21,"r":5,"v":0.9},{"c":22,"r":5,"v":1.2},{"c":23,"r":5,"v":1},{"c":24,"r":5,"v":1.15},{"c":25,"r":5,"v":1.25},{"c":26,"r":5,"v":1.1},{"c":27,"r":5,"v":2.55},
{"c":1,"r":6,"v":-0.45},{"c":2,"r":6,"v":-0.5},{"c":3,"r":6,"v":-0.75},{"c":4,"r":6,"v":-0.65},{"c":5,"r":6,"v":-1.15},{"c":6,"r":6,"v":-0.55},{"c":7,"r":6,"v":-0.6},{"c":8,"r":6,"v":-0.6},{"c":9,"r":6,"v":-0.75},{"c":10,"r":6,"v":-1.05},{"c":11,"r":6,"v":-0.95},{"c":12,"r":6,"v":-0.45},{"c":13,"r":6,"v":-0.75},{"c":14,"r":6,"v":-0.8},{"c":15,"r":6,"v":-0.75},{"c":16,"r":6,"v":-0.7},{"c":17,"r":6,"v":-0.85},{"c":18,"r":6,"v":0.85},{"c":19,"r":6,"v":1.05},{"c":20,"r":6,"v":1.15},{"c":21,"r":6,"v":1.3},{"c":22,"r":6,"v":1.1},{"c":23,"r":6,"v":0.7},{"c":24,"r":6,"v":1.05},{"c":25,"r":6,"v":1.05},{"c":26,"r":6,"v":1.15},{"c":27,"r":6,"v":2.7},
{"c":1,"r":7,"v":-0.9},{"c":2,"r":7,"v":-1.15},{"c":3,"r":7,"v":-0.9},{"c":4,"r":7,"v":-0.95},{"c":5,"r":7,"v":-1.15},{"c":6,"r":7,"v":-1.05},{"c":7,"r":7,"v":-1.15},{"c":8,"r":7,"v":-1.05},{"c":9,"r":7,"v":0.5},{"c":10,"r":7,"v":-0.45},{"c":11,"r":7,"v":-0.4},{"c":12,"r":7,"v":0.45},{"c":13,"r":7,"v":-0.45},{"c":14,"r":7,"v":-0.5},{"c":15,"r":7,"v":-0.5},{"c":16,"r":7,"v":-0.45},{"c":17,"r":7,"v":-0.35},{"c":18,"r":7,"v":-1.1},{"c":19,"r":7,"v":1.3},{"c":20,"r":7,"v":1.35},{"c":21,"r":7,"v":1.1},{"c":22,"r":7,"v":1.45},{"c":23,"r":7,"v":1.3},{"c":24,"r":7,"v":1.3},{"c":25,"r":7,"v":1.3},{"c":26,"r":7,"v":1.6},{"c":27,"r":7,"v":0.3},
{"c":1,"r":8,"v":-0.4},{"c":2,"r":8,"v":-1.45},{"c":3,"r":8,"v":-0.55},{"c":4,"r":8,"v":-1.5},{"c":5,"r":8,"v":-1},{"c":6,"r":8,"v":-1.05},{"c":7,"r":8,"v":-0.85},{"c":8,"r":8,"v":-0.85},{"c":9,"r":8,"v":-1.25},{"c":10,"r":8,"v":-0.3},{"c":11,"r":8,"v":-0.2},{"c":12,"r":8,"v":-0.9},{"c":13,"r":8,"v":0},{"c":14,"r":8,"v":0.1},{"c":15,"r":8,"v":-0.15},{"c":16,"r":8,"v":-0.2},{"c":17,"r":8,"v":-0.6},{"c":18,"r":8,"v":-0.5},{"c":19,"r":8,"v":1.1},{"c":20,"r":8,"v":1.5},{"c":21,"r":8,"v":0.75},{"c":22,"r":8,"v":1.25},{"c":23,"r":8,"v":1.3},{"c":24,"r":8,"v":1.35},{"c":25,"r":8,"v":1.2},{"c":26,"r":8,"v":1.1},{"c":27,"r":8,"v":1.2},
{"c":1,"r":9,"v":-0.4},{"c":2,"r":9,"v":-0.8},{"c":3,"r":9,"v":-1.3},{"c":4,"r":9,"v":-0.85},{"c":5,"r":9,"v":-1.1},{"c":6,"r":9,"v":-1.1},{"c":7,"r":9,"v":-1},{"c":8,"r":9,"v":-0.9},{"c":9,"r":9,"v":-1.7},{"c":10,"r":9,"v":-0.7},{"c":11,"r":9,"v":-0.5},{"c":12,"r":9,"v":0.1},{"c":13,"r":9,"v":-0.3},{"c":14,"r":9,"v":-0.4},{"c":15,"r":9,"v":-0.4},{"c":16,"r":9,"v":-0.4},{"c":17,"r":9,"v":-0.65},{"c":18,"r":9,"v":-0.45},{"c":19,"r":9,"v":1.7},{"c":20,"r":9,"v":1.35},{"c":21,"r":9,"v":1.15},{"c":22,"r":9,"v":1.25},{"c":23,"r":9,"v":1.2},{"c":24,"r":9,"v":1.15},{"c":25,"r":9,"v":1.2},{"c":26,"r":9,"v":1.15},{"c":27,"r":9,"v":1.05},
{"c":1,"r":10,"v":-0.4},{"c":2,"r":10,"v":-0.9},{"c":3,"r":10,"v":-0.7},{"c":4,"r":10,"v":-0.8},{"c":5,"r":10,"v":-0.9},{"c":6,"r":10,"v":-0.9},{"c":7,"r":10,"v":-0.85},{"c":8,"r":10,"v":-0.8},{"c":9,"r":10,"v":-0.95},{"c":10,"r":10,"v":-0.75},{"c":11,"r":10,"v":-0.7},{"c":12,"r":10,"v":-0.85},{"c":13,"r":10,"v":-0.65},{"c":14,"r":10,"v":-0.65},{"c":15,"r":10,"v":-0.7},{"c":16,"r":10,"v":-0.65},{"c":17,"r":10,"v":-0.65},{"c":18,"r":10,"v":-0.6},{"c":19,"r":10,"v":1.3},{"c":20,"r":10,"v":1.3},{"c":21,"r":10,"v":1.1},{"c":22,"r":10,"v":1.45},{"c":23,"r":10,"v":1.6},{"c":24,"r":10,"v":1.45},{"c":25,"r":10,"v":1.3},{"c":26,"r":10,"v":1.25},{"c":27,"r":10,"v":0.6},
{"c":1,"r":11,"v":-0.35},{"c":2,"r":11,"v":0.45},{"c":3,"r":11,"v":-0.15},{"c":4,"r":11,"v":0.6},{"c":5,"r":11,"v":0.55},{"c":6,"r":11,"v":0.3},{"c":7,"r":11,"v":0.5},{"c":8,"r":11,"v":0.5},{"c":9,"r":11,"v":-2.6},{"c":10,"r":11,"v":-1.05},{"c":11,"r":11,"v":-1},{"c":12,"r":11,"v":-1.1},{"c":13,"r":11,"v":-0.95},{"c":14,"r":11,"v":-1},{"c":15,"r":11,"v":-1},{"c":16,"r":11,"v":-1},{"c":17,"r":11,"v":-1.25},{"c":18,"r":11,"v":-0.2},{"c":19,"r":11,"v":1.05},{"c":20,"r":11,"v":1.05},{"c":21,"r":11,"v":1},{"c":22,"r":11,"v":1.05},{"c":23,"r":11,"v":1.1},{"c":24,"r":11,"v":1.05},{"c":25,"r":11,"v":1},{"c":26,"r":11,"v":1},{"c":27,"r":11,"v":0.1},
{"c":1,"r":12,"v":0.4},{"c":2,"r":12,"v":-0.35},{"c":3,"r":12,"v":-0.5},{"c":4,"r":12,"v":-0.5},{"c":5,"r":12,"v":-0.35},{"c":6,"r":12,"v":-0.3},{"c":7,"r":12,"v":-0.2},{"c":8,"r":12,"v":-0.1},{"c":9,"r":12,"v":-0.05},{"c":10,"r":12,"v":-1},{"c":11,"r":12,"v":-1.1},{"c":12,"r":12,"v":-0.9},{"c":13,"r":12,"v":-1},{"c":14,"r":12,"v":-1.3},{"c":15,"r":12,"v":-0.95},{"c":16,"r":12,"v":-0.95},{"c":17,"r":12,"v":-1},{"c":18,"r":12,"v":-0.95},{"c":19,"r":12,"v":1.1},{"c":20,"r":12,"v":1.05},{"c":21,"r":12,"v":1.35},{"c":22,"r":12,"v":1},{"c":23,"r":12,"v":1.2},{"c":24,"r":12,"v":1.1},{"c":25,"r":12,"v":1.05},{"c":26,"r":12,"v":1.1},{"c":27,"r":12,"v":1.9},
{"c":1,"r":13,"v":0.15},{"c":2,"r":13,"v":0.2},{"c":3,"r":13,"v":0.6},{"c":4,"r":13,"v":0.1},{"c":5,"r":13,"v":0.35},{"c":6,"r":13,"v":0.45},{"c":7,"r":13,"v":-0.05},{"c":8,"r":13,"v":0.45},{"c":9,"r":13,"v":0.8},{"c":10,"r":13,"v":-1.05},{"c":11,"r":13,"v":-1.4},{"c":12,"r":13,"v":-1.45},{"c":13,"r":13,"v":-1.2},{"c":14,"r":13,"v":-1.15},{"c":15,"r":13,"v":-1.2},{"c":16,"r":13,"v":-1.1},{"c":17,"r":13,"v":-1.05},{"c":18,"r":13,"v":-1.5},{"c":19,"r":13,"v":1.05},{"c":20,"r":13,"v":1.05},{"c":21,"r":13,"v":0.75},{"c":22,"r":13,"v":1},{"c":23,"r":13,"v":0.85},{"c":24,"r":13,"v":1.05},{"c":25,"r":13,"v":1.1},{"c":26,"r":13,"v":1.25},{"c":27,"r":13,"v":0.65},
{"c":1,"r":14,"v":-0.25},{"c":2,"r":14,"v":0.1},{"c":3,"r":14,"v":0.45},{"c":4,"r":14,"v":0.2},{"c":5,"r":14,"v":0},{"c":6,"r":14,"v":0.2},{"c":7,"r":14,"v":0.4},{"c":8,"r":14,"v":-0.4},{"c":9,"r":14,"v":0.1},{"c":10,"r":14,"v":-0.95},{"c":11,"r":14,"v":-1.2},{"c":12,"r":14,"v":-0.95},{"c":13,"r":14,"v":-1.45},{"c":14,"r":14,"v":-1.25},{"c":15,"r":14,"v":-1.25},{"c":16,"r":14,"v":-1.4},{"c":17,"r":14,"v":-1.05},{"c":18,"r":14,"v":-1.2},{"c":19,"r":14,"v":1.05},{"c":20,"r":14,"v":1},{"c":21,"r":14,"v":0.8},{"c":22,"r":14,"v":1.3},{"c":23,"r":14,"v":1.25},{"c":24,"r":14,"v":1.1},{"c":25,"r":14,"v":1.1},{"c":26,"r":14,"v":1.05},{"c":27,"r":14,"v":1.2},
{"c":1,"r":15,"v":0},{"c":2,"r":15,"v":-0.1},{"c":3,"r":15,"v":0.45},{"c":4,"r":15,"v":-0.25},{"c":5,"r":15,"v":-0.1},{"c":6,"r":15,"v":0.45},{"c":7,"r":15,"v":0.45},{"c":8,"r":15,"v":-0.8},{"c":9,"r":15,"v":0.3},{"c":10,"r":15,"v":-0.85},{"c":11,"r":15,"v":-0.8},{"c":12,"r":15,"v":-0.85},{"c":13,"r":15,"v":-1.35},{"c":14,"r":15,"v":-0.7},{"c":15,"r":15,"v":-0.9},{"c":16,"r":15,"v":-1.35},{"c":17,"r":15,"v":-0.95},{"c":18,"r":15,"v":-2.5},{"c":19,"r":15,"v":0.85},{"c":20,"r":15,"v":1.15},{"c":21,"r":15,"v":0.3},{"c":22,"r":15,"v":1.3},{"c":23,"r":15,"v":1.45},{"c":24,"r":15,"v":1.35},{"c":25,"r":15,"v":1.2},{"c":26,"r":15,"v":1.2},{"c":27,"r":15,"v":1.25}]
},
"vconcat":[
{"hconcat":[
{"width":186,"height":186,"view":{"stroke":"#999","strokeWidth":1.5},"layer":[
{"data":{"name":"aShapes"},"mark":{"type":"area","interpolate":"monotone","orient":"vertical","strokeWidth":4,"opacity":0.25},"encoding":{"x":{"field":"x","type":"quantitative","scale":{"domain":[85,643],"nice":false},"axis":{"title":"UMAP_1","labels":false,"ticks":false,"domain":false,"titleFontSize":9,"titlePadding":3}},"y":{"field":"y","type":"quantitative","stack":null,"scale":{"domain":[628,70],"nice":false},"axis":{"title":"UMAP_2","labels":false,"ticks":false,"domain":false,"titleFontSize":9,"titlePadding":4}},"y2":{"field":"y2"},"detail":{"field":"p"},"color":{"field":"k","scale":{"domain":["CD4 T","CD8 T","Tꜰʜ","Treg","Th","Tʀᴍ","B","DC","RBC","Monocyte","Marcophages"],"range":["#F8766D","#DB8E00","#AEA200","#64B200","#00BD5C","#00C1A7","#00BADE","#00A6FF","#B385FF","#EF67EB","#FF63B6"]},"legend":{"orient":"none","legendX":192,"legendY":7.5,"title":null,"symbolType":"circle","symbolSize":50,"symbolStrokeWidth":0,"symbolOpacity":1,"labelFontSize":9,"rowPadding":0,"labelOffset":3,"clipHeight":11.5}},"stroke":{"field":"k","scale":{"domain":["CD4 T","CD8 T","Tꜰʜ","Treg","Th","Tʀᴍ","B","DC","RBC","Monocyte","Marcophages"],"range":["#F8766D","#DB8E00","#AEA200","#64B200","#00BD5C","#00C1A7","#00BADE","#00A6FF","#B385FF","#EF67EB","#FF63B6"]},"legend":null}}},
{"data":{"name":"aShapes"},"mark":{"type":"area","interpolate":"monotone","orient":"vertical"},"encoding":{"x":{"field":"x","type":"quantitative"},"y":{"field":"y","type":"quantitative","stack":null},"y2":{"field":"y2"},"detail":{"field":"p"},"color":{"field":"k"}}},
{"data":{"name":"aDots"},"mark":{"type":"point","filled":true,"size":3,"opacity":0.8},"encoding":{"x":{"field":"x","type":"quantitative"},"y":{"field":"y","type":"quantitative"},"color":{"field":"k"}}},
{"data":{"values":[{"t":"Monocyte","x":290,"y":115},{"t":"DC","x":469,"y":125},{"t":"Marcophages","x":306,"y":210},{"t":"Th","x":477,"y":258},{"t":"RBC","x":204,"y":341},{"t":"Tꜰʜ","x":298,"y":433},{"t":"CD8 T","x":478,"y":429},{"t":"Treg","x":262,"y":497},{"t":"Tʀᴍ","x":301,"y":534},{"t":"B","x":348,"y":528},{"t":"CD4 T","x":414,"y":554}]},"mark":{"type":"text","fontSize":7},"encoding":{"x":{"field":"x","type":"quantitative"},"y":{"field":"y","type":"quantitative"},"text":{"field":"t"}}},
{"data":{"values":[{"t":"A","x":17,"y":25}]},"mark":{"type":"text","fontSize":12,"fontWeight":"bold","color":"#000"},"encoding":{"x":{"field":"x","type":"quantitative"},"y":{"field":"y","type":"quantitative"},"text":{"field":"t"}}},
{"data":{"values":[{"x":2,"y":2}]},"mark":{"type":"point","size":1,"opacity":0},"encoding":{"x":{"field":"x","type":"quantitative"},"y":{"field":"y","type":"quantitative"}}}
]},
{"hconcat":[
{"width":84,"height":180,"layer":[
{"data":{"name":"bShapes"},"transform":[{"lookup":"s","from":{"data":{"name":"dens"},"key":"s","fields":["C"]},"as":["d"]},{"filter":"datum.d>0"}],"mark":{"type":"area","interpolate":"monotone","orient":"vertical"},"encoding":{"x":{"field":"x","type":"quantitative","scale":{"domain":[-10.8,11.4],"nice":false},"axis":{"title":null,"values":[-5,0,5],"labelPadding":1,"tickSize":2}},"y":{"field":"y","type":"quantitative","stack":null,"scale":{"domain":[-6.4,7.7],"range":[180,11],"nice":false},"axis":{"title":"UMAP_2","values":[-4,0,4],"titleFontSize":9}},"y2":{"field":"y2"},"color":{"field":"s","scale":{"domain":["N","P","E","G","T","H","7","F","M","m"],"range":["#F8766D","#DB8E00","#AEA200","#2DB84A","#00C1A7","#00BADE","#3D8FE8","#B385FF","#EF67EB","#EF67EB"]},"legend":null},"opacity":{"field":"d","type":"quantitative","scale":null}}},
{"data":{"name":"bDots"},"transform":[{"lookup":"s","from":{"data":{"name":"dens"},"key":"s","fields":["C"]},"as":["d"]},{"filter":"datum.d>0"}],"mark":{"type":"point","filled":true,"size":2,"opacity":0.8},"encoding":{"x":{"field":"x","type":"quantitative"},"y":{"field":"y","type":"quantitative"},"color":{"field":"s","legend":null}}},
{"data":{"values":[{"t":"Control","x":0.6,"y":8.45}]},"mark":{"type":"text","fontSize":8},"encoding":{"x":{"field":"x","type":"quantitative"},"y":{"field":"y","type":"quantitative"},"text":{"field":"t"}}},
{"data":{"values":[{"t":"B","x":-14.5,"y":9.87}]},"mark":{"type":"text","fontSize":12,"fontWeight":"bold","color":"#000"},"encoding":{"x":{"field":"x","type":"quantitative"},"y":{"field":"y","type":"quantitative"},"text":{"field":"t"}}}
]},
{"width":84,"height":180,"layer":[
{"data":{"name":"bShapes"},"transform":[{"lookup":"s","from":{"data":{"name":"dens"},"key":"s","fields":["P"]},"as":["d"]},{"filter":"datum.d>0"}],"mark":{"type":"area","interpolate":"monotone","orient":"vertical"},"encoding":{"x":{"field":"x","type":"quantitative","scale":{"domain":[-10.8,11.4],"nice":false},"axis":{"title":"UMAP_1","values":[-5,0,5],"titleFontSize":9,"titlePadding":3,"labelPadding":1,"tickSize":2}},"y":{"field":"y","type":"quantitative","stack":null,"scale":{"domain":[-6.4,7.7],"range":[180,11],"nice":false},"axis":null},"y2":{"field":"y2"},"color":{"field":"s","scale":{"domain":["N","P","E","G","T","H","7","F","M","m"],"range":["#F8766D","#DB8E00","#AEA200","#2DB84A","#00C1A7","#00BADE","#3D8FE8","#B385FF","#EF67EB","#EF67EB"]},"legend":null},"opacity":{"field":"d","type":"quantitative","scale":null}}},
{"data":{"name":"bDots"},"transform":[{"lookup":"s","from":{"data":{"name":"dens"},"key":"s","fields":["P"]},"as":["d"]},{"filter":"datum.d>0"}],"mark":{"type":"point","filled":true,"size":2,"opacity":0.8},"encoding":{"x":{"field":"x","type":"quantitative"},"y":{"field":"y","type":"quantitative","axis":null},"color":{"field":"s","legend":null}}},
{"data":{"values":[{"t":"Prime","x":-3.4,"y":8.45}]},"mark":{"type":"text","fontSize":8},"encoding":{"x":{"field":"x","type":"quantitative"},"y":{"field":"y","type":"quantitative","axis":null},"text":{"field":"t"}}}
]},
{"width":84,"height":180,"layer":[
{"data":{"name":"bShapes"},"transform":[{"lookup":"s","from":{"data":{"name":"dens"},"key":"s","fields":["B"]},"as":["d"]},{"filter":"datum.d>0"}],"mark":{"type":"area","interpolate":"monotone","orient":"vertical"},"encoding":{"x":{"field":"x","type":"quantitative","scale":{"domain":[-10.8,11.4],"nice":false},"axis":{"title":null,"values":[-5,0,5],"labelPadding":1,"tickSize":2}},"y":{"field":"y","type":"quantitative","stack":null,"scale":{"domain":[-6.4,7.7],"range":[180,11],"nice":false},"axis":null},"y2":{"field":"y2"},"color":{"field":"s","scale":{"domain":["N","P","E","G","T","H","7","F","M","m"],"range":["#F8766D","#DB8E00","#AEA200","#2DB84A","#00C1A7","#00BADE","#3D8FE8","#B385FF","#EF67EB","#EF67EB"]},"legend":{"orient":"none","legendX":91,"legendY":8,"title":null,"values":["N","P","E","G","T","H","7","F","M"],"labelExpr":"{'N':'Naive CD8 T cells','P':'Precursor exhausted cytotoxic CD8 T cells','E':'Early differentiated memory CD8 T cells','G':'Gzma- Effect memory CD8 T cells','T':'Tʀᴍ CD8 T cells','H':'Gzma+ Effect memory CD8 T cells','7':'CD7+ CD8 T cells','F':'Early effector CD8 T cells','M':'Tmem176a/b+ CD8 T cells'}[datum.label]","symbolType":"circle","symbolSize":30,"symbolOpacity":1,"symbolStrokeWidth":0,"labelFontSize":8.1,"labelOffset":3,"rowPadding":0,"clipHeight":10.8}},"opacity":{"field":"d","type":"quantitative","scale":null}}},
{"data":{"name":"bExtra"},"mark":{"type":"area","interpolate":"monotone","orient":"vertical","opacity":0.85},"encoding":{"x":{"field":"x","type":"quantitative"},"y":{"field":"y","type":"quantitative","stack":null,"axis":null},"y2":{"field":"y2"},"color":{"field":"s"}}},
{"data":{"name":"bDots"},"transform":[{"lookup":"s","from":{"data":{"name":"dens"},"key":"s","fields":["B"]},"as":["d"]},{"filter":"datum.d>0"}],"mark":{"type":"point","filled":true,"size":2,"opacity":0.8},"encoding":{"x":{"field":"x","type":"quantitative"},"y":{"field":"y","type":"quantitative","axis":null},"color":{"field":"s"}}},
{"data":{"values":[{"t":"Prime-Boost","x":-7,"y":8.45}]},"mark":{"type":"text","fontSize":8},"encoding":{"x":{"field":"x","type":"quantitative"},"y":{"field":"y","type":"quantitative","axis":null},"text":{"field":"t"}}}
]}
],"spacing":1.5,"bounds":"flush","resolve":{"scale":{"color":"independent"},"legend":{"color":"independent"}}}
],"spacing":110,"bounds":"flush","resolve":{"scale":{"color":"independent","stroke":"independent"},"legend":{"color":"independent","stroke":"independent"}}},
{"vconcat":[
{"hconcat":[
{"hconcat":[
{"width":70.5,"height":249,"view":{"stroke":"#888"},"layer":[
{"data":{"name":"bars"},"transform":[{"filter":"datum.s<3"}],"mark":{"type":"bar"},"encoding":{"x":{"field":"s","type":"nominal","scale":{"paddingInner":0.08,"paddingOuter":0.06},"axis":{"title":null,"labels":false,"domain":false,"tickColor":"#888"}},"y":{"field":"v","type":"quantitative","stack":"zero","scale":{"domain":[-4.9,107.2],"nice":false},"axis":{"title":"Percent","labels":false,"domain":false,"values":[0,25,50,75,100],"tickColor":"#888","titlePadding":6,"titleFontSize":8.5}},"order":{"field":"r","sort":"descending"},"color":{"field":"r","type":"nominal","scale":{"domain":[1,2,3,4,5,6,7,8,9],"range":["#E41A1C","#377EB8","#4DAF4A","#984EA3","#FF7F00","#FFFF33","#A65628","#F781BF","#999999"]},"legend":null}}},
{"data":{"values":[{"y":105.4,"y2":110.8}]},"mark":{"type":"rect","fill":"#d9d9d9","stroke":"#888"},"encoding":{"x":{"value":0},"x2":{"value":70.5},"y":{"field":"y","type":"quantitative","axis":null},"y2":{"field":"y2"}}},
{"data":{"values":[{"t":"Control","y":108.1}]},"mark":{"type":"text","fontSize":7.5},"encoding":{"x":{"value":35},"y":{"field":"y","type":"quantitative","axis":null},"text":{"field":"t"}}},
{"data":{"values":[{"t":"C","y":113}]},"mark":{"type":"text","fontSize":12,"fontWeight":"bold","color":"#000"},"encoding":{"x":{"value":-22},"y":{"field":"y","type":"quantitative","axis":null},"text":{"field":"t"}}}
]},
{"width":70.5,"height":249,"view":{"stroke":"#888"},"layer":[
{"data":{"name":"bars"},"transform":[{"filter":"datum.s>2&&datum.s<6"}],"mark":{"type":"bar"},"encoding":{"x":{"field":"s","type":"nominal","scale":{"paddingInner":0.08,"paddingOuter":0.06},"axis":{"title":null,"labels":false,"domain":false,"tickColor":"#888"}},"y":{"field":"v","type":"quantitative","stack":"zero","scale":{"domain":[-4.9,107.2],"nice":false},"axis":null},"order":{"field":"r","sort":"descending"},"color":{"field":"r","type":"nominal","scale":{"domain":[1,2,3,4,5,6,7,8,9],"range":["#E41A1C","#377EB8","#4DAF4A","#984EA3","#FF7F00","#FFFF33","#A65628","#F781BF","#999999"]},"legend":null}}},
{"data":{"values":[{"y":105.4,"y2":110.8}]},"mark":{"type":"rect","fill":"#d9d9d9","stroke":"#888"},"encoding":{"x":{"value":0},"x2":{"value":70.5},"y":{"field":"y","type":"quantitative","axis":null},"y2":{"field":"y2"}}},
{"data":{"values":[{"t":"Prime","y":108.1}]},"mark":{"type":"text","fontSize":7.5},"encoding":{"x":{"value":35},"y":{"field":"y","type":"quantitative","axis":null},"text":{"field":"t"}}}
]},
{"width":70.5,"height":249,"view":{"stroke":"#888"},"layer":[
{"data":{"name":"bars"},"transform":[{"filter":"datum.s>5"}],"mark":{"type":"bar"},"encoding":{"x":{"field":"s","type":"nominal","scale":{"paddingInner":0.08,"paddingOuter":0.06},"axis":{"title":null,"labels":false,"domain":false,"tickColor":"#888"}},"y":{"field":"v","type":"quantitative","stack":"zero","scale":{"domain":[-4.9,107.2],"nice":false},"axis":null},"order":{"field":"r","sort":"descending"},"color":{"field":"r","type":"nominal","scale":{"domain":[1,2,3,4,5,6,7,8,9],"range":["#E41A1C","#377EB8","#4DAF4A","#984EA3","#FF7F00","#FFFF33","#A65628","#F781BF","#999999"]},"legend":{"orient":"none","legendX":82,"legendY":-5,"title":"Cell types","titleFontSize":8.5,"titleFontWeight":"normal","titlePadding":6,"symbolType":"square","symbolSize":100,"symbolStrokeWidth":0,"labelFontSize":8.3,"labelOffset":4,"rowPadding":0,"labelExpr":"['Naive CD8 T cells','Precursor exhausted cytotoxic CD8 T cells','Early differentiated memory CD8 T cells','Gzma- Effect memory CD8 T cells','Tʀᴍ CD8 T cells','Gzma+ Effect memory CD8 T cells','CD7+ CD8 T cells','Early effector CD8 T cells','Tmem176a/b+ CD8 T cells'][datum.value-1]"}}}},
{"data":{"values":[{"y":105.4,"y2":110.8}]},"mark":{"type":"rect","fill":"#d9d9d9","stroke":"#888"},"encoding":{"x":{"value":0},"x2":{"value":70.5},"y":{"field":"y","type":"quantitative","axis":null},"y2":{"field":"y2"}}},
{"data":{"values":[{"t":"Prime−Boost","y":108.1}]},"mark":{"type":"text","fontSize":7.5},"encoding":{"x":{"value":35},"y":{"field":"y","type":"quantitative","axis":null},"text":{"field":"t"}}},
{"data":{"values":[{"t":"D","y":113}]},"mark":{"type":"text","fontSize":12,"fontWeight":"bold","color":"#000"},"encoding":{"x":{"value":257},"y":{"field":"y","type":"quantitative","axis":null},"text":{"field":"t"}}}
]}
],"spacing":3,"bounds":"flush","resolve":{"scale":{"color":"independent"},"legend":{"color":"independent"}}},
{"concat":[
{"title":{"text":"Ccl3","fontSize":9,"fontWeight":"normal","offset":3},"width":130,"height":69,"data":{"name":"vln"},"transform":[{"filter":"datum.g=='Ccl3'"}],"layer":[
{"transform":[{"filter":"datum.t=='b'"}],"mark":{"type":"rect","color":"#000"},"encoding":{"x":{"field":"x","type":"quantitative","scale":{"domain":[0.39,3.55],"nice":false},"axis":{"title":null,"values":[1,2,3],"ticks":false,"labelExpr":"['Control','Prime','Prime-Boost'][datum.value-1]","labelPadding":4}},"x2":{"field":"x2"},"y":{"field":"y","type":"quantitative","scale":{"domain":[-0.28,5.4],"nice":false},"axis":{"title":"Expression Level","titleFontSize":6.5,"labelFontSize":7.5,"values":[0,2,4],"titlePadding":4}},"y2":{"field":"y2"},"opacity":{"field":"d","type":"quantitative","scale":null}}},
{"transform":[{"filter":"datum.t=='d'"}],"mark":{"type":"point","filled":true,"size":1.5,"color":"#000","opacity":0.8},"encoding":{"x":{"field":"x","type":"quantitative"},"y":{"field":"y","type":"quantitative"}}},
{"transform":[{"filter":"datum.t=='r'"}],"mark":{"type":"rule","color":"#a8a8a8"},"encoding":{"x":{"field":"c","type":"quantitative"},"y":{"field":"zero","type":"quantitative"},"y2":{"field":"max"}}},
{"transform":[{"filter":"datum.t=='r'"}],"mark":{"type":"rule","color":"#666"},"encoding":{"x":{"field":"l","type":"quantitative"},"x2":{"field":"r"},"y":{"field":"zero","type":"quantitative"}}}
]},
{"title":{"text":"Ccl4","fontSize":9,"fontWeight":"normal","offset":3},"width":130,"height":69,"data":{"name":"vln"},"transform":[{"filter":"datum.g=='Ccl4'"}],"layer":[
{"transform":[{"filter":"datum.t=='b'"}],"mark":{"type":"rect","color":"#000"},"encoding":{"x":{"field":"x","type":"quantitative","scale":{"domain":[0.39,3.55],"nice":false},"axis":{"title":null,"values":[1,2,3],"ticks":false,"labelExpr":"['Control','Prime','Prime-Boost'][datum.value-1]","labelPadding":4}},"x2":{"field":"x2"},"y":{"field":"y","type":"quantitative","scale":{"domain":[-0.35,7],"nice":false},"axis":{"title":"Expression Level","titleFontSize":6.5,"labelFontSize":7.5,"values":[0,2,4,6],"titlePadding":4}},"y2":{"field":"y2"},"opacity":{"field":"d","type":"quantitative","scale":null}}},
{"transform":[{"filter":"datum.t=='d'"}],"mark":{"type":"point","filled":true,"size":1.5,"color":"#000","opacity":0.8},"encoding":{"x":{"field":"x","type":"quantitative"},"y":{"field":"y","type":"quantitative"}}},
{"transform":[{"filter":"datum.t=='r'"}],"mark":{"type":"rule","color":"#a8a8a8"},"encoding":{"x":{"field":"c","type":"quantitative"},"y":{"field":"zero","type":"quantitative"},"y2":{"field":"max"}}},
{"transform":[{"filter":"datum.t=='r'"}],"mark":{"type":"rule","color":"#666"},"encoding":{"x":{"field":"l","type":"quantitative"},"x2":{"field":"r"},"y":{"field":"zero","type":"quantitative"}}},
{"transform":[{"filter":"datum.t=='v'"}],"mark":{"type":"area","orient":"horizontal","opacity":0.85,"color":"#3F78E0"},"encoding":{"y":{"field":"y","type":"quantitative"},"x":{"field":"x","type":"quantitative"},"x2":{"field":"x2"},"detail":{"field":"c"}}}
]},
{"title":{"text":"Ccl5","fontSize":9,"fontWeight":"normal","offset":3},"width":130,"height":69,"data":{"name":"vln"},"transform":[{"filter":"datum.g=='Ccl5'"}],"layer":[
{"transform":[{"filter":"datum.t=='b'"}],"mark":{"type":"rect","color":"#000"},"encoding":{"x":{"field":"x","type":"quantitative","scale":{"domain":[0.39,3.55],"nice":false},"axis":{"title":null,"values":[1,2,3],"ticks":false,"labelExpr":"['Control','Prime','Prime-Boost'][datum.value-1]","labelPadding":4}},"x2":{"field":"x2"},"y":{"field":"y","type":"quantitative","scale":{"domain":[-0.45,8.07],"nice":false},"axis":{"title":"Expression Level","titleFontSize":6.5,"labelFontSize":7.5,"values":[0,2,4,6,8],"titlePadding":4}},"y2":{"field":"y2"},"opacity":{"field":"d","type":"quantitative","scale":null}}},
{"transform":[{"filter":"datum.t=='d'"}],"mark":{"type":"point","filled":true,"size":1.5,"color":"#000","opacity":0.8},"encoding":{"x":{"field":"x","type":"quantitative"},"y":{"field":"y","type":"quantitative"}}},
{"transform":[{"filter":"datum.t=='r'"}],"mark":{"type":"rule","color":"#666"},"encoding":{"x":{"field":"l","type":"quantitative"},"x2":{"field":"r"},"y":{"field":"zero","type":"quantitative"}}},
{"transform":[{"filter":"datum.t=='v'"}],"mark":{"type":"area","orient":"horizontal","opacity":0.85},"encoding":{"y":{"field":"y","type":"quantitative"},"x":{"field":"x","type":"quantitative"},"x2":{"field":"x2"},"color":{"field":"c","type":"nominal","scale":{"domain":["1","2","3"],"range":["#E8554E","#0EA02C","#3F78E0"]},"legend":null}}}
]},
{"title":{"text":"Cxcr6","fontSize":9,"fontWeight":"normal","offset":3},"width":130,"height":69,"data":{"name":"vln"},"transform":[{"filter":"datum.g=='Cxcr6'"}],"layer":[
{"transform":[{"filter":"datum.t=='b'"}],"mark":{"type":"rect","color":"#000"},"encoding":{"x":{"field":"x","type":"quantitative","scale":{"domain":[0.39,3.55],"nice":false},"axis":{"title":null,"values":[1,2,3],"ticks":false,"labelExpr":"['Control','Prime','Prime-Boost'][datum.value-1]","labelPadding":4}},"x2":{"field":"x2"},"y":{"field":"y","type":"quantitative","scale":{"domain":[-0.24,4.8],"nice":false},"axis":{"title":"Expression Level","titleFontSize":6.5,"labelFontSize":7.5,"values":[0,1,2,3,4],"titlePadding":4}},"y2":{"field":"y2"},"opacity":{"field":"d","type":"quantitative","scale":null}}},
{"transform":[{"filter":"datum.t=='d'"}],"mark":{"type":"point","filled":true,"size":1.5,"color":"#000","opacity":0.8},"encoding":{"x":{"field":"x","type":"quantitative"},"y":{"field":"y","type":"quantitative"}}},
{"transform":[{"filter":"datum.t=='r'"}],"mark":{"type":"rule","color":"#a8a8a8"},"encoding":{"x":{"field":"c","type":"quantitative"},"y":{"field":"zero","type":"quantitative"},"y2":{"field":"max"}}},
{"transform":[{"filter":"datum.t=='r'"}],"mark":{"type":"rule","color":"#666"},"encoding":{"x":{"field":"l","type":"quantitative"},"x2":{"field":"r"},"y":{"field":"zero","type":"quantitative"}}},
{"transform":[{"filter":"datum.t=='v'"}],"mark":{"type":"area","orient":"horizontal","opacity":0.85,"color":"#3F78E0"},"encoding":{"y":{"field":"y","type":"quantitative"},"x":{"field":"x","type":"quantitative"},"x2":{"field":"x2"},"detail":{"field":"c"}}}
]},
{"title":{"text":"Gzma","fontSize":9,"fontWeight":"normal","offset":3},"width":130,"height":69,"data":{"name":"vln"},"transform":[{"filter":"datum.g=='Gzma'"}],"layer":[
{"transform":[{"filter":"datum.t=='b'"}],"mark":{"type":"rect","color":"#000"},"encoding":{"x":{"field":"x","type":"quantitative","scale":{"domain":[0.39,3.55],"nice":false},"axis":{"title":null,"values":[1,2,3],"ticks":false,"labelExpr":"['Control','Prime','Prime-Boost'][datum.value-1]","labelPadding":4}},"x2":{"field":"x2"},"y":{"field":"y","type":"quantitative","scale":{"domain":[-0.3,6.15],"nice":false},"axis":{"title":"Expression Level","titleFontSize":6.5,"labelFontSize":7.5,"values":[0,2,4,6],"titlePadding":4}},"y2":{"field":"y2"},"opacity":{"field":"d","type":"quantitative","scale":null}}},
{"transform":[{"filter":"datum.t=='d'"}],"mark":{"type":"point","filled":true,"size":1.5,"color":"#000","opacity":0.8},"encoding":{"x":{"field":"x","type":"quantitative"},"y":{"field":"y","type":"quantitative"}}},
{"transform":[{"filter":"datum.t=='r'"}],"mark":{"type":"rule","color":"#a8a8a8"},"encoding":{"x":{"field":"c","type":"quantitative"},"y":{"field":"zero","type":"quantitative"},"y2":{"field":"max"}}},
{"transform":[{"filter":"datum.t=='r'"}],"mark":{"type":"rule","color":"#666"},"encoding":{"x":{"field":"l","type":"quantitative"},"x2":{"field":"r"},"y":{"field":"zero","type":"quantitative"}}}
]},
{"title":{"text":"Gzmk","fontSize":9,"fontWeight":"normal","offset":3},"width":130,"height":69,"data":{"name":"vln"},"transform":[{"filter":"datum.g=='Gzmk'"}],"layer":[
{"transform":[{"filter":"datum.t=='b'"}],"mark":{"type":"rect","color":"#000"},"encoding":{"x":{"field":"x","type":"quantitative","scale":{"domain":[0.39,3.55],"nice":false},"axis":{"title":null,"values":[1,2,3],"ticks":false,"labelExpr":"['Control','Prime','Prime-Boost'][datum.value-1]","labelPadding":4}},"x2":{"field":"x2"},"y":{"field":"y","type":"quantitative","scale":{"domain":[-0.25,5.05],"nice":false},"axis":{"title":"Expression Level","titleFontSize":6.5,"labelFontSize":7.5,"values":[0,1,2,3,4,5],"titlePadding":4}},"y2":{"field":"y2"},"opacity":{"field":"d","type":"quantitative","scale":null}}},
{"transform":[{"filter":"datum.t=='d'"}],"mark":{"type":"point","filled":true,"size":1.5,"color":"#000","opacity":0.8},"encoding":{"x":{"field":"x","type":"quantitative"},"y":{"field":"y","type":"quantitative"}}},
{"transform":[{"filter":"datum.t=='r'"}],"mark":{"type":"rule","color":"#a8a8a8"},"encoding":{"x":{"field":"c","type":"quantitative"},"y":{"field":"zero","type":"quantitative"},"y2":{"field":"max"}}},
{"transform":[{"filter":"datum.t=='r'"}],"mark":{"type":"rule","color":"#666"},"encoding":{"x":{"field":"l","type":"quantitative"},"x2":{"field":"r"},"y":{"field":"zero","type":"quantitative"}}},
{"transform":[{"filter":"datum.t=='v'"}],"mark":{"type":"area","orient":"horizontal","opacity":0.85,"color":"#3F78E0"},"encoding":{"y":{"field":"y","type":"quantitative"},"x":{"field":"x","type":"quantitative"},"x2":{"field":"x2"},"detail":{"field":"c"}}}
]}
],"columns":2,"spacing":{"row":29.5,"column":25},"bounds":"flush","resolve":{"scale":{"color":"independent"},"legend":{"color":"independent"}}}
],"spacing":424,"bounds":"flush","resolve":{"scale":{"color":"independent"},"legend":{"color":"independent"}}},
{"hconcat":[
{"width":1,"height":1,"data":{"values":[]},"mark":"rect","encoding":{}},
{"vconcat":[
{"width":310,"height":11,"layer":[
{"data":{"name":"annot"},"mark":{"type":"rect","stroke":"#aaa","strokeWidth":0.3},"encoding":{"x":{"field":"c","type":"ordinal","axis":null},"color":{"field":"g","type":"nominal","scale":{"domain":["Control","Prime","Prime-Boost"],"range":["#00CC66","#FF8080","#7FB2FF"]},"legend":{"orient":"none","legendX":561,"legendY":7,"title":"group","titleFontSize":12,"titleFontWeight":"bold","titleColor":"#000","titlePadding":3,"symbolType":"square","symbolSize":256,"symbolStrokeWidth":0,"labelFontSize":8,"rowPadding":0,"labelOffset":6}}}},
{"data":{"values":[{"c":5,"t":"Control"},{"c":14,"t":"Prime"},{"c":22,"t":"Prime-Boost"}]},"mark":{"type":"text","fontSize":10,"dy":-17},"encoding":{"x":{"field":"c","type":"ordinal"},"text":{"field":"t"}}},
{"data":{"values":[{"c":27,"t":"group"}]},"mark":{"type":"text","fontSize":10,"fontWeight":"bold","color":"#000","align":"left","dx":7.5},"encoding":{"x":{"field":"c","type":"ordinal"},"text":{"field":"t"}}},
{"data":{"values":[{"t":"E"}]},"mark":{"type":"text","fontSize":12,"fontWeight":"bold","color":"#000"},"encoding":{"x":{"value":-33},"y":{"value":-27},"text":{"field":"t"}}}
]},
{"width":310,"height":201,"data":{"name":"heat"},"mark":{"type":"rect","stroke":"#a0a0a0","strokeWidth":0.4},"encoding":{"x":{"field":"c","type":"ordinal","axis":{"title":null,"ticks":false,"domain":false,"labelAngle":-90,"labelPadding":3,"labelFontSize":8.7,"labelLimit":220,"labelExpr":"['CD7+ CD8 T cells','Early differentiated memory CD8 T cells','Early effector CD8 T cells','Gzma- Effect memory CD8 T cells','Gzma+ Effect memory CD8 T cells','Naive CD8 T cells','Precursor exhausted cytotoxic CD8 T cells','Tʀᴍ CD8 T cells','Tmem176a/b+ CD8 T cells'][(datum.value-1)%9]"}},"y":{"field":"r","type":"ordinal","axis":{"orient":"right","title":null,"ticks":false,"domain":false,"labelPadding":2,"labelFontSize":10.8,"labelLimit":260,"labelExpr":"['Ribosome','Spliceosome','Type I diabetes mellitus','Viral myocarditis','Cytokine-cytokine receptor interaction','NOD-like receptor signaling pathway','Chemokine signaling pathway','Prion diseases','Cytosolic DNA-sensing pathway','Natural killer cell mediated cytotoxicity','Allograft rejection','Graft-versus-host disease','Autoimmune thyroid disease','Antigen processing and presentation','Cell adhesion molecules (CAMs)'][datum.value-1]"}},"color":{"field":"v","type":"quantitative","scale":{"domain":[-2.65,0,2.75],"range":["#0000ff","#ffffff","#ff0000"],"interpolate":"rgb"},"legend":{"orient":"none","legendX":529,"legendY":-1,"title":null,"direction":"vertical","gradientLength":111,"gradientThickness":8,"values":[2,1,0,-1,-2],"labelFontSize":10,"gradientStrokeWidth":0}}}}
],"spacing":2,"bounds":"flush","resolve":{"scale":{"color":"independent"},"legend":{"color":"independent"}}}
],"spacing":8,"bounds":"flush","resolve":{"scale":{"color":"independent"},"legend":{"color":"independent"}}}
],"spacing":302,"bounds":"flush","resolve":{"scale":{"color":"independent"},"legend":{"color":"independent"}}}
]}
